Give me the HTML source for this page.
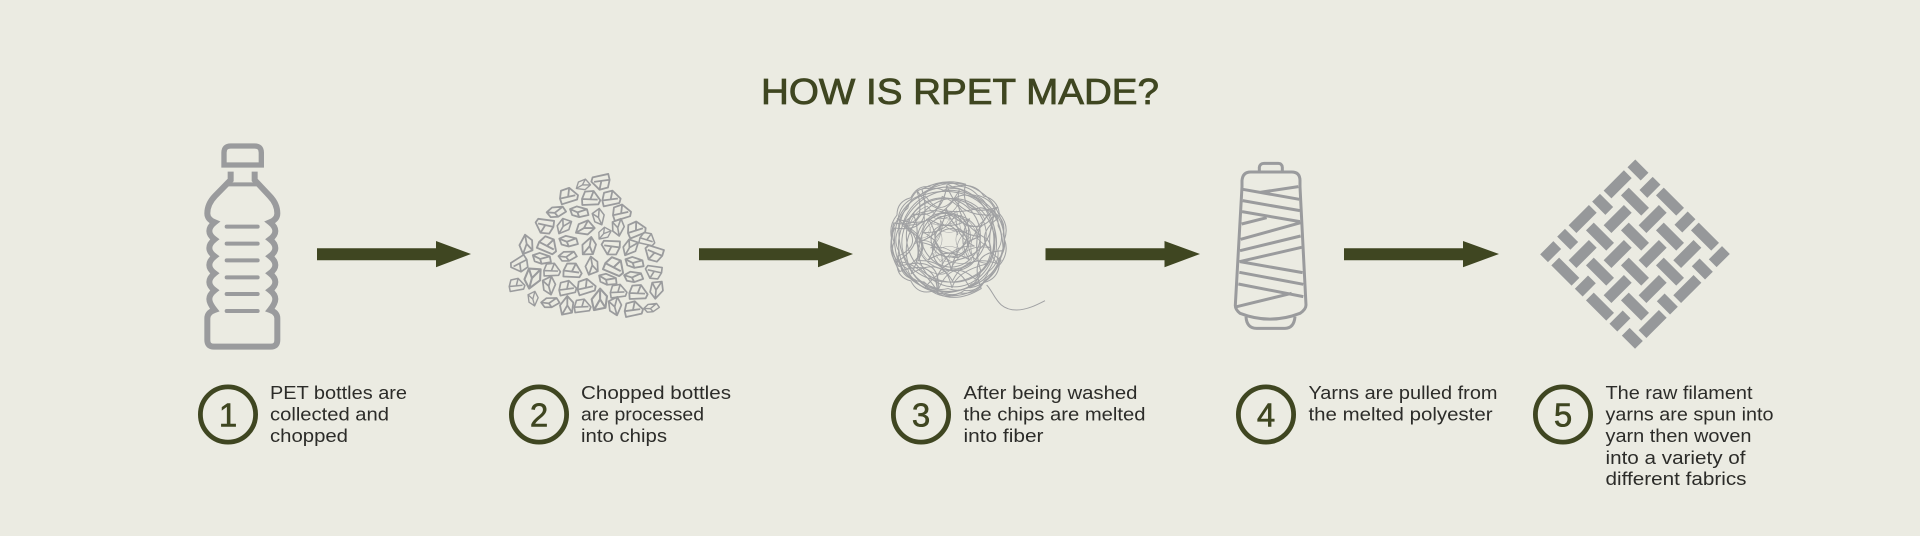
<!DOCTYPE html>
<html><head><meta charset="utf-8"><style>
html,body{margin:0;padding:0;background:#ebebe2;width:1920px;height:536px;overflow:hidden}
svg{display:block}
text{font-family:"Liberation Sans",sans-serif}
.t{font-size:18px;fill:#2c2c29;}
.n{font-size:33px;fill:#3f4621;stroke:#3f4621;stroke-width:.6px;text-anchor:middle}
</style></head><body>
<svg width="1920" height="536" viewBox="0 0 1920 536" xmlns="http://www.w3.org/2000/svg">
<rect width="1920" height="536" fill="#ebebe2"/>
<defs>
<g id="ca" fill="none" stroke="#9a9b9d" stroke-width="5.4" stroke-linejoin="round"><path d="M-27 4L-18 -18L8 -20L28 8L22 20L-26 22Z M-27 4L20 6M8 -20L-2 5"/></g>
<g id="cb" fill="none" stroke="#9a9b9d" stroke-width="5.4" stroke-linejoin="round"><path d="M-28 -2L-10 -14L22 -12L30 4L4 16L-18 14Z M-28 -2L-4 3L22 -12M-4 3L4 16"/></g>
<g id="cc" fill="none" stroke="#9a9b9d" stroke-width="5.4" stroke-linejoin="round"><path d="M-16 -22L14 -28L20 0L-2 28L-20 8Z M-16 -22L-2 0L14 -28M-2 0L-2 28"/></g>
<rect id="wl" x="-43" y="-16.5" width="86" height="33" fill="#96989a"/>
<rect id="ws" x="-28" y="-16.5" width="56" height="33" fill="#96989a"/>
<path id="y1" fill="none" stroke="#a0a1a3" stroke-width="3" d="M-150,10 C-150,-80 -100,-140 -20,-150 C60,-155 140,-100 150,-20 C155,60 110,140 30,150 C-50,155 -135,110 -150,30 C-155,-40 -120,-100 -60,-120 C10,-140 90,-100 120,-40 C150,30 100,110 20,125 C-50,135 -120,90 -125,20 C-130,-40 -80,-90 -20,-90 C40,-90 90,-40 80,20 C70,70 20,95 -30,80 C-70,65 -90,20 -70,-20 C-50,-55 -5,-60 25,-35 C50,-10 45,30 15,45 C-15,55 -45,35 -40,5"/>
<path id="y2" fill="none" stroke="#a0a1a3" stroke-width="3" d="M-150,-60 Q-60,-20 20,-120 Q70,-150 140,-60 Q60,0 150,60 Q120,130 60,140 Q10,40 -70,140 Q-130,110 -150,50 Q-60,10 -150,-60Z"/>
<path id="y3" fill="none" stroke="#a0a1a3" stroke-width="3" d="M-165,0 Q-175,-40 -150,-70 Q-150,-110 -110,-120 Q-90,-160 -50,-150 Q-10,-175 30,-155 Q80,-160 100,-125 Q140,-115 145,-75 Q175,-40 160,0 Q175,40 145,75 Q140,115 100,125 Q80,160 30,155 Q-10,175 -50,150 Q-90,160 -110,120 Q-150,110 -150,70 Q-175,40 -165,0Z"/>
<path id="y4" fill="none" stroke="#a0a1a3" stroke-width="3" d="M-130,-50 Q-50,-110 20,-60 Q90,-10 130,-70 Q100,30 140,70 Q50,40 10,120 Q-30,50 -110,100 Q-60,20 -130,-50Z M-60,-60 Q0,-20 60,-60 Q20,0 60,60 Q0,20 -60,60 Q-20,0 -60,-60Z"/>
</defs>

<text x="761" y="104" font-size="36" textLength="398" lengthAdjust="spacingAndGlyphs" fill="#3f4621" stroke="#3f4621" stroke-width=".8">HOW IS RPET MADE?</text>

<!-- bottle -->
<g transform="translate(180 130) scale(.3333)" fill="none" stroke="#9a9b9d" stroke-width="16">
<path d="M132 105V68Q132 48 152 48H224Q244 48 244 68V105Z"/>
<path stroke-width="18" d="M152 125V150L105 198Q82 222 82 250Q82 268 104 277Q88 290 88 303Q88 316 104 328Q88 341 88 354Q88 367 104 379Q88 392 88 405Q88 418 104 430Q88 443 88 456Q88 469 104 481Q88 494 88 507Q88 520 104 540Q82 548 82 565V630Q82 650 102 650H272Q292 650 292 630V565Q292 548 270 540Q286 520 286 507Q286 494 270 481Q286 469 286 456Q286 443 270 430Q286 418 286 405Q286 392 270 379Q286 367 286 354Q286 341 270 328Q286 316 286 303Q286 290 270 277Q292 268 292 250Q292 222 269 198L224 150V125"/>
<path stroke-width="12" d="M140 163H235"/>
<path stroke-width="12" stroke-linecap="round" d="M140 290H233M140 341H233M140 391H233M140 442H233M140 492H233M140 543H233"/>
</g>

<!-- arrows -->
<g fill="#3f4621">
<path d="M317 248.3H436V241L471 254L436 267.3V260.3H317Z"/>
<path d="M699 248.3H818V241L853 254L818 267.3V260.3H699Z"/>
<path d="M1045.5 248.3H1164.5V241L1200 254L1164.5 267.3V260.3H1045.5Z"/>
<path d="M1344 248.3H1463V241L1499 254L1463 267.3V260.3H1344Z"/>
</g>

<!-- chips -->
<g transform="translate(490 160) scale(.3333)">
<use href="#ca" transform="translate(333 68) rotate(170) scale(1)"/>
<use href="#cc" transform="translate(278 76) rotate(60) scale(.75)"/>
<use href="#ca" transform="translate(235 105) rotate(-15)"/>
<use href="#ca" transform="translate(303 113)"/>
<use href="#ca" transform="translate(363 113) rotate(-10)"/>
<use href="#cb" transform="translate(198 155) rotate(-8)"/>
<use href="#cb" transform="translate(267 155) rotate(12)"/>
<use href="#cc" transform="translate(327 172) rotate(-25) scale(.85)"/>
<use href="#ca" transform="translate(394 155) rotate(-15)"/>
<use href="#ca" transform="translate(163 200) rotate(190)"/>
<use href="#cc" transform="translate(221 200) rotate(30) scale(.9)"/>
<use href="#cc" transform="translate(283 206) rotate(60)"/>
<use href="#cc" transform="translate(342 222) rotate(40) scale(.75)"/>
<use href="#cc" transform="translate(385 203) rotate(-10) scale(.9)"/>
<use href="#ca" transform="translate(438 206) rotate(-20)"/>
<use href="#ca" transform="translate(473 236) rotate(15) scale(.85)"/>
<use href="#cc" transform="translate(108 252) rotate(170)"/>
<use href="#ca" transform="translate(175 254) rotate(25) scale(1.05)"/>
<use href="#cb" transform="translate(235 243) rotate(10)"/>
<use href="#cc" transform="translate(297 258) rotate(190)"/>
<use href="#ca" transform="translate(362 264) rotate(185)"/>
<use href="#cc" transform="translate(420 264) rotate(30) scale(.95)"/>
<use href="#ca" transform="translate(490 282) rotate(200)"/>
<use href="#cb" transform="translate(232 288) rotate(-5) scale(.95)"/>
<use href="#cb" transform="translate(155 295) rotate(15)"/>
<use href="#ca" transform="translate(90 315) rotate(150) scale(.95)"/>
<use href="#ca" transform="translate(186 328) rotate(0) scale(.9)"/>
<use href="#ca" transform="translate(248 330) rotate(5)"/>
<use href="#cc" transform="translate(305 316) rotate(170) scale(.95)"/>
<use href="#ca" transform="translate(375 318) rotate(25) scale(1.1)"/>
<use href="#cb" transform="translate(433 307) rotate(15)"/>
<use href="#ca" transform="translate(490 338) rotate(190) scale(.9)"/>
<use href="#cb" transform="translate(430 350) rotate(5)"/>
<use href="#cc" transform="translate(128 355) rotate(15) scale(1.15)"/>
<use href="#cc" transform="translate(178 378) rotate(-15) scale(.95)"/>
<use href="#ca" transform="translate(80 373) rotate(-8) scale(.85)"/>
<use href="#ca" transform="translate(232 382) rotate(-10) scale(.95)"/>
<use href="#ca" transform="translate(288 378) rotate(-15)"/>
<use href="#cb" transform="translate(353 358) rotate(20)"/>
<use href="#ca" transform="translate(385 392) rotate(-5) scale(.9)"/>
<use href="#ca" transform="translate(445 395) rotate(0)"/>
<use href="#cc" transform="translate(500 390) rotate(5) scale(.95)"/>
<use href="#cc" transform="translate(130 417) rotate(-15) scale(.75)"/>
<use href="#cb" transform="translate(180 427) rotate(-5) scale(.95)"/>
<use href="#cc" transform="translate(230 436) rotate(180)"/>
<use href="#ca" transform="translate(277 436) rotate(-5) scale(.9)"/>
<use href="#cc" transform="translate(328 418) rotate(180) scale(1.15)"/>
<use href="#cc" transform="translate(376 440) rotate(-15) scale(.95)"/>
<use href="#ca" transform="translate(430 445) rotate(-10)"/>
<use href="#cb" transform="translate(484 443) rotate(-10) scale(.8)"/>
</g>

<!-- yarn ball -->
<g transform="translate(880 170) scale(.3333)">
<g transform="translate(207 208) scale(1.04)">
<use href="#y3"/>
<use href="#y3" transform="rotate(22) scale(.96)"/>
<use href="#y3" transform="rotate(12) scale(.9)"/>
<use href="#y1" transform="translate(8 -6) rotate(50) scale(1.02)"/>
<use href="#y1" transform="translate(-10 6) rotate(160) scale(.98)"/>
<use href="#y1" transform="translate(6 10) rotate(280) scale(1)"/>
<use href="#y2"/>
<use href="#y2" transform="rotate(35) scale(1.05)"/>
<use href="#y2" transform="rotate(80) scale(.9)"/>
<use href="#y2" transform="rotate(125) scale(1.05)"/>
<use href="#y2" transform="rotate(170) scale(.75)"/>
<use href="#y2" transform="rotate(20) scale(.55)"/>
<use href="#y2" transform="rotate(70) scale(.4)"/>
<use href="#y4"/>
<use href="#y4" transform="rotate(60) scale(.9)"/>
<use href="#y4" transform="rotate(130) scale(1.05)"/>
<use href="#y4" transform="rotate(200) scale(.7)"/>
<use href="#y4" transform="rotate(270) scale(.5)"/>
</g>
<path fill="none" stroke="#a0a1a3" stroke-width="3" d="M320 345C345 370 350 420 410 420C440 420 470 405 495 392"/>
</g>

<!-- spool -->
<g transform="translate(1220 150) scale(.3333)" fill="none" stroke="#9a9b9d" stroke-width="9">
<path d="M118 65V52Q120 40 132 40H175Q186 40 187 52V65"/>
<path d="M66 110V92Q68 66 92 66H215Q240 66 240 92V110L258 465Q258 478 240 490Q150 525 60 490Q45 478 46 465Z"/>
<path d="M78 500Q80 535 110 535H195Q222 535 225 500"/>
<path stroke-width="9" d="M68 118L238 148M235 110L120 127M68 152L240 182M66 185L240 215M65 222L140 203M242 218L62 268M242 258L60 302M245 292L58 335M60 335L248 368M58 367L250 403M55 402L250 440M50 470L215 430"/>
</g>

<!-- weave -->
<g transform="translate(1530 150) scale(.3333)">
<use href="#ws" transform="translate(324 60) rotate(45)"/>
<use href="#ws" transform="translate(218 163) rotate(45)"/>
<use href="#wl" transform="translate(315 155) rotate(45)"/>
<use href="#wl" transform="translate(420 155) rotate(45)"/>
<use href="#ws" transform="translate(113 268) rotate(45)"/>
<use href="#wl" transform="translate(210 260) rotate(45)"/>
<use href="#wl" transform="translate(315 260) rotate(45)"/>
<use href="#wl" transform="translate(420 260) rotate(45)"/>
<use href="#wl" transform="translate(525 260) rotate(45)"/>
<use href="#wl" transform="translate(106 365) rotate(45)"/>
<use href="#wl" transform="translate(210 365) rotate(45)"/>
<use href="#wl" transform="translate(315 365) rotate(45)"/>
<use href="#wl" transform="translate(420 365) rotate(45)"/>
<use href="#ws" transform="translate(517 357) rotate(45)"/>
<use href="#wl" transform="translate(210 470) rotate(45)"/>
<use href="#wl" transform="translate(315 470) rotate(45)"/>
<use href="#ws" transform="translate(412 462) rotate(45)"/>
<use href="#ws" transform="translate(307 565) rotate(45)"/>
<use href="#wl" transform="translate(263 103) rotate(-45)"/>
<use href="#ws" transform="translate(360 112) rotate(-45)"/>
<use href="#wl" transform="translate(158 207) rotate(-45)"/>
<use href="#wl" transform="translate(263 207) rotate(-45)"/>
<use href="#wl" transform="translate(368 207) rotate(-45)"/>
<use href="#ws" transform="translate(465 216) rotate(-45)"/>
<use href="#ws" transform="translate(62 305) rotate(-45)"/>
<use href="#wl" transform="translate(158 312) rotate(-45)"/>
<use href="#wl" transform="translate(263 312) rotate(-45)"/>
<use href="#wl" transform="translate(368 312) rotate(-45)"/>
<use href="#wl" transform="translate(472 312) rotate(-45)"/>
<use href="#ws" transform="translate(568 320) rotate(-45)"/>
<use href="#ws" transform="translate(166 408) rotate(-45)"/>
<use href="#wl" transform="translate(263 417) rotate(-45)"/>
<use href="#wl" transform="translate(368 417) rotate(-45)"/>
<use href="#wl" transform="translate(472 417) rotate(-45)"/>
<use href="#ws" transform="translate(270 513) rotate(-45)"/>
<use href="#wl" transform="translate(368 522) rotate(-45)"/>
</g>

<!-- number circles -->
<g fill="none" stroke="#3f4621" stroke-width="4.8">
<circle cx="228" cy="414.5" r="27.6"/>
<circle cx="539" cy="414.5" r="27.6"/>
<circle cx="921" cy="414.5" r="27.6"/>
<circle cx="1266" cy="414.5" r="27.6"/>
<circle cx="1563" cy="414.5" r="27.6"/>
</g>
<text class="n" x="228" y="426.5">1</text>
<text class="n" x="539" y="426.5">2</text>
<text class="n" x="921" y="426.5">3</text>
<text class="n" x="1266" y="426.5">4</text>
<text class="n" x="1563" y="426.5">5</text>

<!-- captions -->
<g>
<text class="t" x="270" y="399" textLength="137" lengthAdjust="spacingAndGlyphs">PET bottles are</text>
<text class="t" x="270" y="420.5" textLength="119" lengthAdjust="spacingAndGlyphs">collected and</text>
<text class="t" x="270" y="442" textLength="78" lengthAdjust="spacingAndGlyphs">chopped</text>
<text class="t" x="581" y="399" textLength="150" lengthAdjust="spacingAndGlyphs">Chopped bottles</text>
<text class="t" x="581" y="420.5" textLength="123" lengthAdjust="spacingAndGlyphs">are processed</text>
<text class="t" x="581" y="442" textLength="86" lengthAdjust="spacingAndGlyphs">into chips</text>
<text class="t" x="963.5" y="399" textLength="174" lengthAdjust="spacingAndGlyphs">After being washed</text>
<text class="t" x="963.5" y="420.5" textLength="182" lengthAdjust="spacingAndGlyphs">the chips are melted</text>
<text class="t" x="963.5" y="442" textLength="80" lengthAdjust="spacingAndGlyphs">into fiber</text>
<text class="t" x="1308.5" y="399" textLength="189" lengthAdjust="spacingAndGlyphs">Yarns are pulled from</text>
<text class="t" x="1308.5" y="420.5" textLength="184" lengthAdjust="spacingAndGlyphs">the melted polyester</text>
<text class="t" x="1605.5" y="399" textLength="147" lengthAdjust="spacingAndGlyphs">The raw filament</text>
<text class="t" x="1605.5" y="420.5" textLength="168" lengthAdjust="spacingAndGlyphs">yarns are spun into</text>
<text class="t" x="1605.5" y="442" textLength="146" lengthAdjust="spacingAndGlyphs">yarn then woven</text>
<text class="t" x="1605.5" y="464" textLength="140" lengthAdjust="spacingAndGlyphs">into a variety of</text>
<text class="t" x="1605.5" y="485" textLength="141" lengthAdjust="spacingAndGlyphs">different fabrics</text>
</g>
</svg>
</body></html>
